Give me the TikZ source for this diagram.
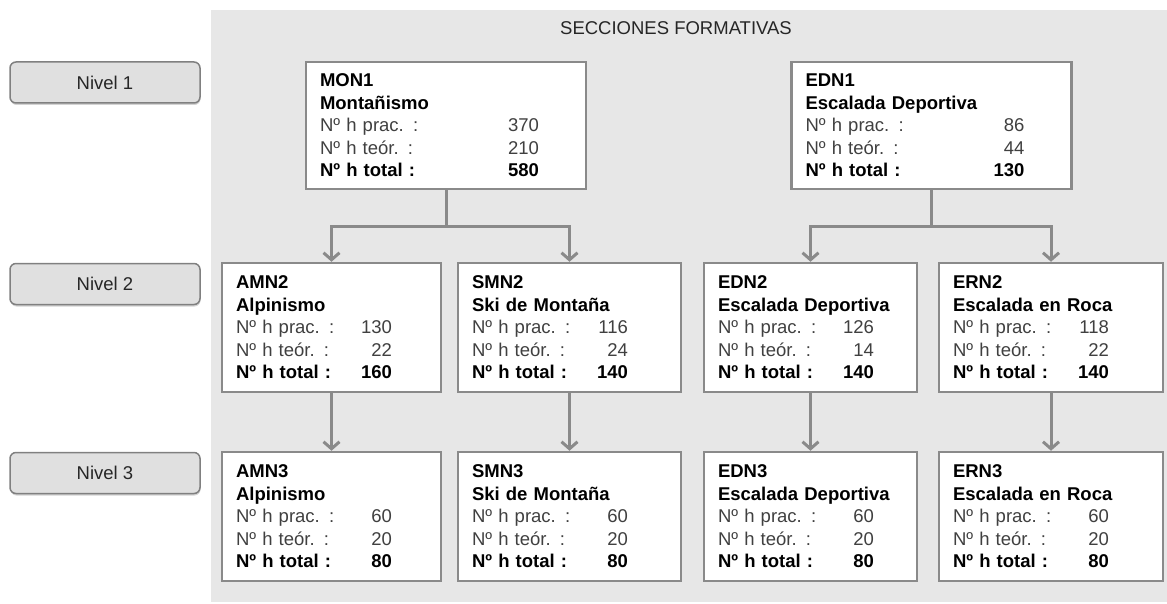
\documentclass[tikz,border=0pt]{standalone}
\usepackage{fontspec}
\setmainfont{Liberation Sans}
\usetikzlibrary{arrows.meta,shadows}

\definecolor{fondo}{HTML}{E7E7E7}
\definecolor{bordegris}{HTML}{8A8A8A}
\definecolor{nivelgris}{HTML}{E0E0E0}
\definecolor{textogris}{HTML}{404040}

\newcommand{\fila}[3][156pt]{\makebox[#1][l]{#2\hfill#3}}
\newcommand{\resal}[1]{{\bfseries\color{black}#1}}

\tikzset{
  ficha/.style={draw=bordegris, line width=2.5pt, fill=white, align=left,
    inner xsep=14pt, inner ysep=0pt, text=textogris,
    font=\fontsize{18.5}{22.5}\selectfont},
  nivel/.style={draw=gray, line width=1.5pt, fill=nivelgris, rounded corners=6pt,
    minimum width=190pt, minimum height=41pt, text=black!85,
    font=\fontsize{18.5}{22.5}\selectfont,
    drop shadow={shadow xshift=0.5pt, shadow yshift=-2pt, opacity=0.35}},
  linea/.style={draw=bordegris, line width=3pt},
  flecha/.style={linea, -{Straight Barb[length=7pt,width=16pt]}}
}

\begin{document}
\begin{tikzpicture}[x=1pt,y=-1pt]
\useasboundingbox (0,0) rectangle (1167,604);

% Background
\fill[fondo] (211,10) rectangle (1167,602);
\node[text=black!85, font=\fontsize{18.5}{22.5}\selectfont] (titulo) at (676,28) {SECCIONES FORMATIVAS};

% Levels
\node[nivel] (niv1) at (105,82.5) {Nivel 1};
\node[nivel] (niv2) at (105,284) {Nivel 2};
\node[nivel] (niv3) at (105,473) {Nivel 3};

% Level 1
\node[ficha, text width=252pt, minimum height=127pt] (mon1) at (446,125.5)
  {\resal{MON1}\\ \resal{Montañismo}\\ \fila[219pt]{Nº h prac. :}{370}\\
   \fila[219pt]{Nº h teór. :}{210}\\ \resal{\fila[219pt]{Nº h total :}{580}}};
\node[ficha, text width=252pt, minimum height=127pt] (edn1) at (931.5,125.5)
  {\resal{EDN1}\\ \resal{Escalada Deportiva}\\ \fila[219pt]{Nº h prac. :}{86}\\
   \fila[219pt]{Nº h teór. :}{44}\\ \resal{\fila[219pt]{Nº h total :}{130}}};

% Level 2
\node[ficha, text width=191pt, minimum height=129pt] (amn2) at (331.5,327.5)
  {\resal{AMN2}\\ \resal{Alpinismo}\\ \fila{Nº h prac. :}{130}\\
   \fila{Nº h teór. :}{22}\\ \resal{\fila{Nº h total :}{160}}};
\node[ficha, text width=195pt, minimum height=129pt] (smn2) at (569.5,327.5)
  {\resal{SMN2}\\ \resal{Ski de Montaña}\\ \fila{Nº h prac. :}{116}\\
   \fila{Nº h teór. :}{24}\\ \resal{\fila{Nº h total :}{140}}};
\node[ficha, text width=185pt, minimum height=129pt] (edn2) at (810.5,327.5)
  {\resal{EDN2}\\ \resal{Escalada Deportiva}\\ \fila{Nº h prac. :}{126}\\
   \fila{Nº h teór. :}{14}\\ \resal{\fila{Nº h total :}{140}}};
\node[ficha, text width=196pt, minimum height=129pt] (ern2) at (1051,327.5)
  {\resal{ERN2}\\ \resal{Escalada en Roca}\\ \fila{Nº h prac. :}{118}\\
   \fila{Nº h teór. :}{22}\\ \resal{\fila{Nº h total :}{140}}};

% Level 3
\node[ficha, text width=191pt, minimum height=129pt] (amn3) at (331.5,516.5)
  {\resal{AMN3}\\ \resal{Alpinismo}\\ \fila{Nº h prac. :}{60}\\
   \fila{Nº h teór. :}{20}\\ \resal{\fila{Nº h total :}{80}}};
\node[ficha, text width=195pt, minimum height=129pt] (smn3) at (569.5,516.5)
  {\resal{SMN3}\\ \resal{Ski de Montaña}\\ \fila{Nº h prac. :}{60}\\
   \fila{Nº h teór. :}{20}\\ \resal{\fila{Nº h total :}{80}}};
\node[ficha, text width=185pt, minimum height=129pt] (edn3) at (810.5,516.5)
  {\resal{EDN3}\\ \resal{Escalada Deportiva}\\ \fila{Nº h prac. :}{60}\\
   \fila{Nº h teór. :}{20}\\ \resal{\fila{Nº h total :}{80}}};
\node[ficha, text width=196pt, minimum height=129pt] (ern3) at (1051,516.5)
  {\resal{ERN3}\\ \resal{Escalada en Roca}\\ \fila{Nº h prac. :}{60}\\
   \fila{Nº h teór. :}{20}\\ \resal{\fila{Nº h total :}{80}}};

% Branches 1 -> 2
\coordinate (mon1r) at (446,227);
\coordinate (edn1r) at (931.5,227);
\draw[linea] (mon1) -- (mon1r);
\draw[flecha] (mon1r) -| (amn2);
\draw[flecha] (mon1r) -| (smn2);
\draw[linea] (edn1) -- (edn1r);
\draw[flecha] (edn1r) -| (edn2);
\draw[flecha] (edn1r) -| (ern2);

% 2 -> 3
\draw[flecha] (amn2) -- (amn3);
\draw[flecha] (smn2) -- (smn3);
\draw[flecha] (edn2) -- (edn3);
\draw[flecha] (ern2) -- (ern3);

\end{tikzpicture}
\end{document}
